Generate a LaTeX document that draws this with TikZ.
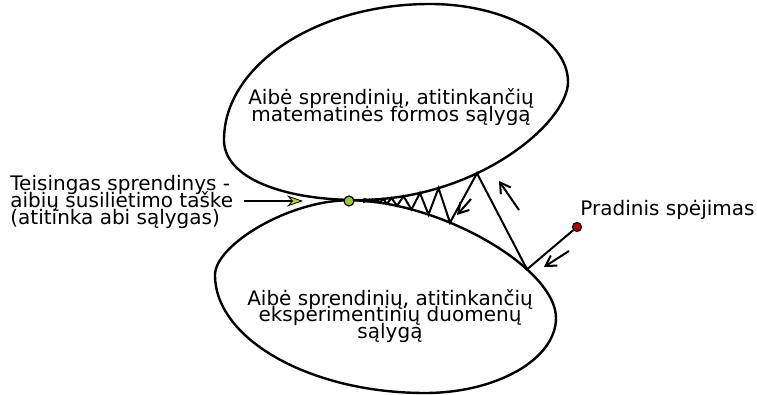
\documentclass[tikz,border=0pt]{standalone}
\usepackage{fontspec}
\setmainfont{DejaVu Sans}
\usepackage{xcolor}
\usepackage{tikz}
\usetikzlibrary{arrows.meta,positioning,intersections}
\definecolor{touchgreen}{RGB}{154,200,50}
\definecolor{tipgreen}{RGB}{175,215,0}
\definecolor{startred}{RGB}{190,0,0}
\newcommand\tightlead{\fontsize{10}{8.4}\selectfont\lineskiplimit=-100pt\relax}
\tikzset{
	setcurve/.style = {draw, line width=1.2pt},
	zigline/.style  = {draw, line width=1pt, line join=miter},
	hint/.style     = {-{Straight Barb[length=5pt,width=6pt]}, line width=1pt},
	pointer/.style  = {-{Stealth[length=8pt,width=5.5pt,inset=2.5pt,fill=tipgreen,line width=0.4pt]}, line width=1pt},
	txt/.style      = {font=\tightlead, inner sep=0pt},
	touchdot/.style = {
			circle,
			draw,
			fill          = touchgreen,
			line width    = 0.6pt,
			inner sep     = 0pt,
			minimum size  = 5pt,
		},
	startdot/.style = {
			circle,
			draw,
			fill          = startred,
			line width    = 0.6pt,
			inner sep     = 0pt,
			minimum size  = 4.5pt,
		}
}

\begin{document}
\begin{tikzpicture}[x=0.5pt, y=-0.5pt]
	\useasboundingbox (0,0) rectangle (757,395);
	% the two sets
	\draw[setcurve, name path=upperset] (430,4)
		.. controls (505,4) and (568,39) .. (568,82)
		.. controls (568,122) and (478,200) .. (358,200)
		.. controls (283,200) and (224,178) .. (224,140)
		.. controls (224,65) and (317,4) .. (430,4) -- cycle;
	\draw[setcurve, name path=lowerset] (349,200.3)
		.. controls (439,200.3) and (556,268) .. (556,318)
		.. controls (556,359) and (497,393) .. (425,393)
		.. controls (310,393) and (215,339) .. (215,275)
		.. controls (215,245) and (289,200.3) .. (349,200.3) -- cycle;

	% zig-zag points on the borders
	\foreach \n/\xx in {1/527, 3/450, 5/428.5, 7/411.5, 9/397} {
		\path[name path=probe] (\xx,140) -- (\xx,300);
		\path[name intersections={of=lowerset and probe, by={z\n}}];
	}
	\foreach \n/\xx in {2/477, 4/438.5, 6/420, 8/403.5, 10/391.5} {
		\path[name path=probe] (\xx,140) -- (\xx,300);
		\path[name intersections={of=upperset and probe, by={z\n}}];
	}
	\foreach \k [evaluate=\k as \n using int(10+\k),
		evaluate=\k as \xx using 361+30.5*0.85^\k] in {1,3,...,15} {
		\path[name path=probe] (\xx,140) -- (\xx,300);
		\path[name intersections={of=lowerset and probe, by={z\n}}];
	}
	\foreach \k [evaluate=\k as \n using int(10+\k),
		evaluate=\k as \xx using 361+30.5*0.85^\k] in {2,4,...,16} {
		\path[name path=probe] (\xx,140) -- (\xx,300);
		\path[name intersections={of=upperset and probe, by={z\n}}];
	}

	\node[startdot] (start) at (577,227) {};
	\draw[zigline] (start) -- (z1) \foreach \i in {2,...,26} { -- (z\i) };
	\node[touchdot] (touch) at (349,201) {};

	\node[txt, align=center] (upperlbl) at (391,107)
		{Aibė sprendinių, atitinkančių\\matematinės formos sąlygą};
	\node[txt, align=center] (lowerlbl) at (390,316)
		{Aibė sprendinių, atitinkančių\\eksperimentinių duomenų\\sąlygą};
	\node[txt, align=left, anchor=west] (solution) at (10,202)
		{Teisingas sprendinys -\\aibių susilietimo taške\\(atitinka abi sąlygas)};
	\node[txt, anchor=base west] (startlbl) at (580,216) {Pradinis spėjimas};

	\coordinate (soltip) at (303,201);
	\draw[pointer, shorten <=5pt] (solution.east |- soltip) -- (soltip);

	\coordinate (h1a) at (519,210);
	\coordinate (h1b) at (499,181);
	\coordinate (h2a) at (471,199);
	\coordinate (h2b) at (457,215);
	\coordinate (h3a) at (569,251);
	\coordinate (h3b) at (544,267);
	\draw[hint] (h1a) -- (h1b);
	\draw[hint] (h2a) -- (h2b);
	\draw[hint] (h3a) -- (h3b);
\end{tikzpicture}
\end{document}
